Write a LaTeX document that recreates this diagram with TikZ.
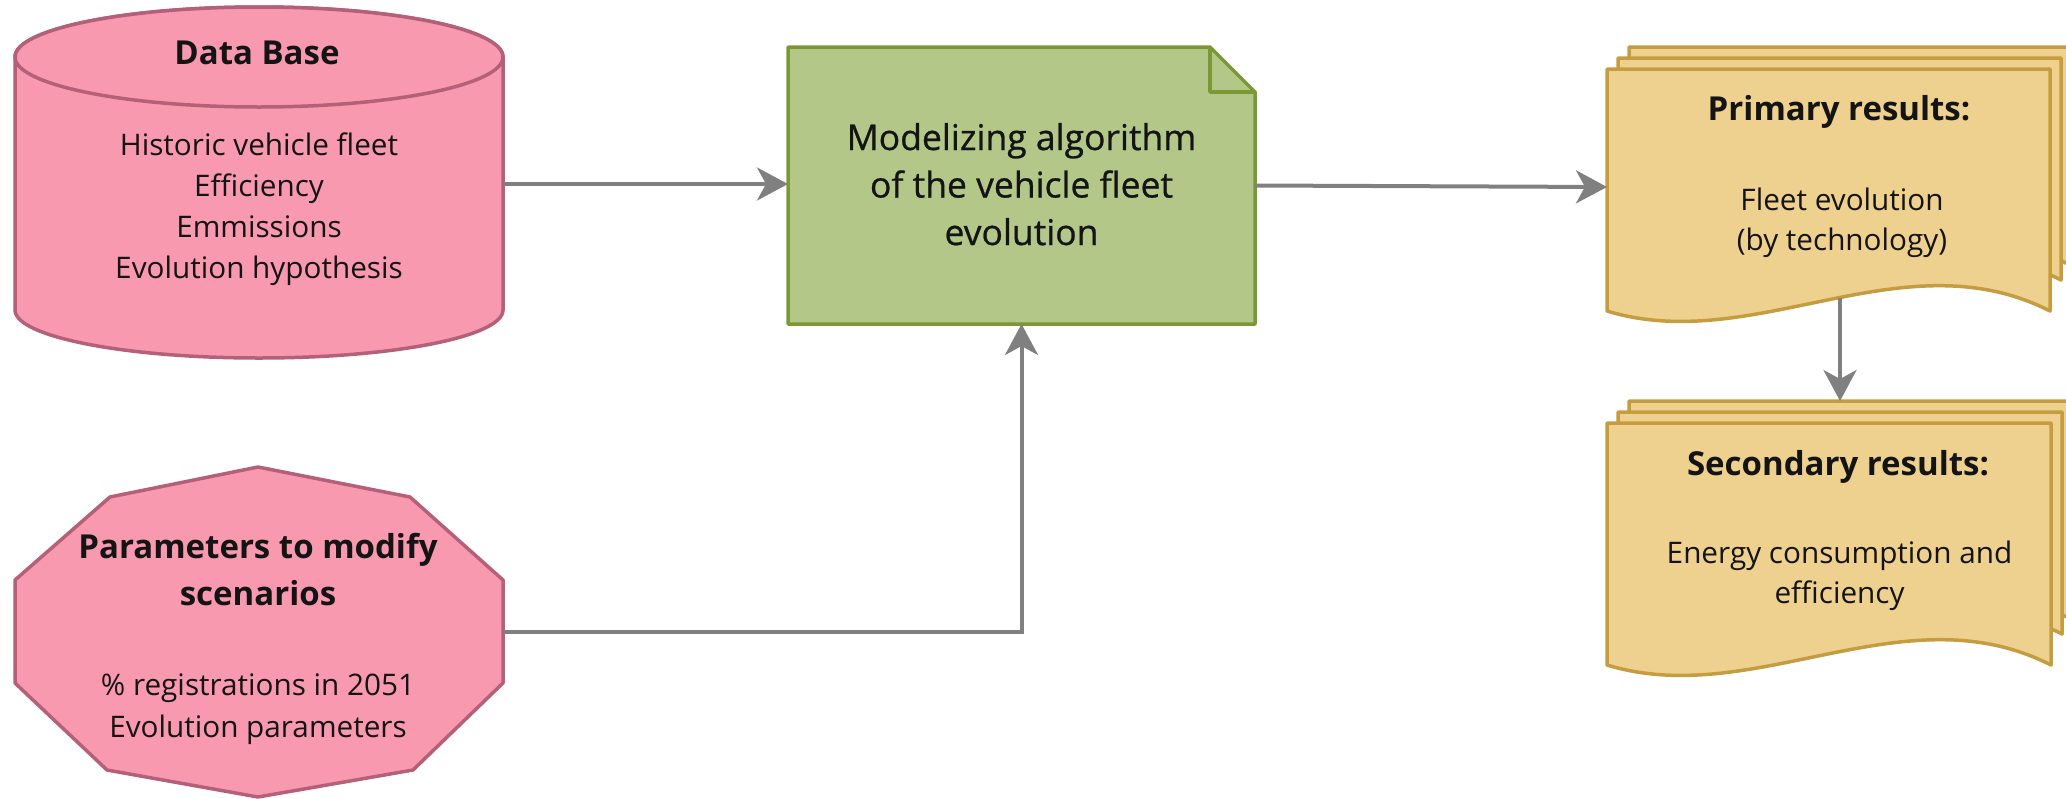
\documentclass[tikz,border=0pt]{standalone}
\usepackage{fontspec}
\setmainfont{Open Sans}
\newfontfamily\algfont[FakeBold=0.7]{Open Sans}
\usetikzlibrary{arrows.meta}
\definecolor{pinkfill}{HTML}{F899B0}
\definecolor{pinkline}{HTML}{B46078}
\definecolor{greenfill}{HTML}{B3C789}
\definecolor{greenline}{HTML}{7A9834}
\definecolor{yellowfill}{HTML}{EFD18F}
\definecolor{yellowline}{HTML}{C59D40}
\definecolor{arrgray}{HTML}{808080}
\definecolor{txt}{HTML}{141414}
\newcommand\docpage[4]{%
  \filldraw[docshape] (#1,#2) -- (#1+#3,#2) -- (#1+#3,#4)
    .. controls (#1+0.667*#3,#4-75) and (#1+0.333*#3,#4+45) .. (#1,#4) -- cycle;}
\begin{document}
\begin{tikzpicture}[x=1pt,y=-1pt,
  shp/.style={line width=3.5pt, line join=round},
  pinkshape/.style={shp, draw=pinkline, fill=pinkfill},
  greenshape/.style={shp, draw=greenline, fill=greenfill},
  docshape/.style={shp, draw=yellowline, fill=yellowfill},
  anchorbox/.style={inner sep=0pt, outer sep=0pt, draw=none, fill=none},
  arr/.style={draw=arrgray, line width=4pt, -{Stealth[length=31pt,width=33pt,inset=9pt]}},
  titletext/.style={font=\fontsize{33pt}{47pt}\selectfont\bfseries, align=center, anchor=base, inner sep=0pt, text=txt},
  algtext/.style={font=\algfont\fontsize{35.5pt}{47.5pt}\selectfont, align=center, anchor=base, inner sep=0pt, text=txt},
  bodytext/.style={font=\fontsize{29.7pt}{41pt}\selectfont, align=center, anchor=base, inner sep=0pt, text=txt}]
\useasboundingbox (0,0) rectangle (2066,798);

% Data base cylinder
\filldraw[pinkshape] (15,57) -- (15,310) arc[start angle=180,end angle=0,x radius=244,y radius=48]
  -- (503,57) arc[start angle=0,end angle=-180,x radius=244,y radius=50] -- cycle;
\draw[pinkshape] (259,57) ellipse[x radius=244,y radius=50];
\node[anchorbox, minimum width=488pt, minimum height=350pt] (db) at (259,184) {};

% Parameters decagon
\filldraw[pinkshape] (258,467) -- (410,497) -- (503,580) -- (503,683) -- (413,770) -- (258,797)
  -- (107,770) -- (15,683) -- (15,580) -- (110,497) -- cycle;
\node[anchorbox, minimum width=488pt, minimum height=330pt] (par) at (259,632) {};

% Algorithm note
\filldraw[greenshape] (788,47) -- (1210,47) -- (1255,92) -- (1255,324) -- (788,324) -- cycle;
\draw[greenshape, fill=none] (1210,47) -- (1210,92) -- (1255,92);
\node[anchorbox, minimum width=467pt, minimum height=277pt] (alg) at (1021.5,185.5) {};

% Primary results stack
\docpage{1629}{47}{443}{266}
\docpage{1618}{58}{443}{280}
\docpage{1607}{69}{443}{311}
\node[anchorbox, minimum width=443pt, minimum height=236pt] (prim) at (1828.5,187) {};
\coordinate (primbot) at (1840,298);

% Secondary results stack
\docpage{1629}{401}{444}{620}
\docpage{1618}{412}{444}{634}
\docpage{1607}{423}{444}{665}
\coordinate (sectop) at (1840,401);

% Connectors
\draw[arr] (db.east) -- (db.east -| alg.west);
\draw[arr] (par.east) -| (alg.south);
\draw[arr] (alg.east) -- (prim.west);
\draw[arr] (primbot) -- (sectop);

% Texts (anchor base = baseline of the last line)
\node[titletext] (dbtitle) at (257,64) {Data Base};
\node[bodytext] (dbbody) at (259,278) {Historic vehicle fleet\\Efficiency\\Emmissions\\Evolution hypothesis};
\node[titletext] (partitle) at (258,605) {Parameters to modify\\scenarios};
\node[bodytext, font=\fontsize{29.7pt}{42pt}\selectfont] (parbody) at (258,737) {\% registrations in 2051\\Evolution parameters};
\node[algtext] (algtitle) at (1021.5,245) {Modelizing algorithm\\of the vehicle fleet\\evolution};
\node[titletext] (primtitle) at (1839,120) {Primary results:};
\node[bodytext, font=\fontsize{29.7pt}{40pt}\selectfont] (primbody) at (1842,250) {Fleet evolution\\(by technology)};
\node[titletext] (sectitle) at (1838,475) {Secondary results:};
\node[bodytext, font=\fontsize{29.7pt}{40pt}\selectfont] (secbody) at (1839.5,603) {Energy consumption and\\efficiency};
\end{tikzpicture}
\end{document}
